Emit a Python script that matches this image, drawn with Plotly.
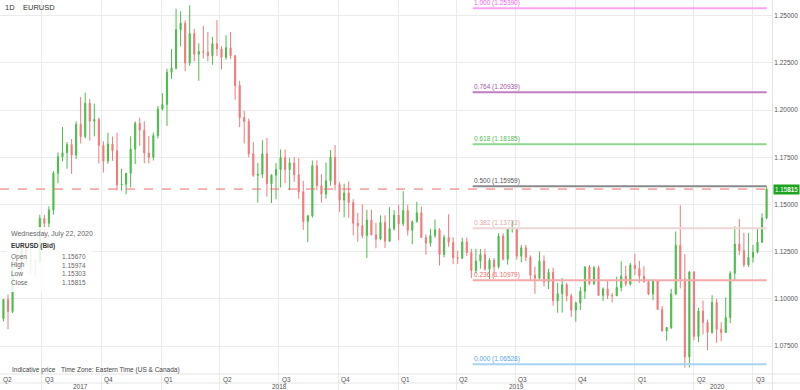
import pandas as pd
import plotly.graph_objects as go

# ---------------- data (weekly candles) ----------------
week_start = pd.date_range("2017-04-24", periods=170, freq="7D")

wk_open = [1.0850,1.0895,1.0997,1.0933,1.1207,1.1164,1.1281,1.1196,1.1199,1.1195,
 1.1426,1.1400,1.1471,1.1665,1.1753,1.1774,1.1817,1.1761,1.1924,1.1860,
 1.2036,1.1941,1.1950,1.1813,1.1730,1.1820,1.1785,1.1604,1.1607,1.1665,
 1.1793,1.1930,1.1894,1.1773,1.1750,1.1865,1.2005,1.2030,1.2200,1.2222,
 1.2426,1.2460,1.2250,1.2405,1.2296,1.2310,1.2307,1.2288,1.2352,1.2324,
 1.2280,1.2330,1.2288,1.2130,1.1960,1.1940,1.1768,1.1654,1.1660,1.1768,
 1.1610,1.1655,1.1685,1.1748,1.1685,1.1720,1.1657,1.1567,1.1410,1.1440,
 1.1705,1.1600,1.1555,1.1625,1.1750,1.1605,1.1523,1.1560,1.1510,1.1400,
 1.1388,1.1335,1.1417,1.1339,1.1316,1.1405,1.1305,1.1372,1.1443,1.1398,
 1.1467,1.1363,1.1408,1.1456,1.1325,1.1295,1.1335,1.1365,1.1235,1.1325,
 1.1300,1.1217,1.1215,1.1301,1.1245,1.1150,1.1200,1.1234,1.1157,1.1205,
 1.1170,1.1333,1.1210,1.1370,1.1373,1.1226,1.1270,1.1220,1.1125,1.1109,
 1.1200,1.1090,1.1140,1.0990,1.1027,1.1075,1.1016,1.0940,1.0978,1.1040,
 1.1168,1.1080,1.1165,1.1018,1.1052,1.1017,1.1016,1.1060,1.1120,1.1078,
 1.1178,1.1160,1.1120,1.1091,1.1026,1.1094,1.0944,1.0830,1.0848,1.1026,
 1.1284,1.1105,1.0692,1.1142,1.0800,1.0935,1.0875,1.0822,1.0980,1.0838,
 1.0822,1.0901,1.1135,1.1290,1.1256,1.1180,1.1220,1.1247,1.1300,1.1428]

wk_high = [1.0958,1.0999,1.1023,1.1213,1.1268,1.1285,1.1296,1.1296,1.1213,1.1445,
 1.1445,1.1490,1.1677,1.1776,1.1910,1.1830,1.1846,1.1940,1.2070,1.2092,
 1.2060,1.2034,1.1960,1.1834,1.1880,1.1860,1.1880,1.1689,1.1667,1.1861,
 1.1940,1.1960,1.1940,1.1863,1.1880,1.2023,1.2089,1.2219,1.2323,1.2537,
 1.2523,1.2475,1.2555,1.2430,1.2354,1.2446,1.2413,1.2388,1.2476,1.2339,
 1.2396,1.2414,1.2292,1.2155,1.1996,1.1955,1.1830,1.1720,1.1840,1.1852,
 1.1660,1.1720,1.1791,1.1791,1.1746,1.1750,1.1745,1.1625,1.1445,1.1733,
 1.1734,1.1660,1.1722,1.1788,1.1815,1.1620,1.1610,1.1622,1.1528,1.1455,
 1.1500,1.1472,1.1472,1.1402,1.1442,1.1442,1.1486,1.1470,1.1498,1.1570,
 1.1499,1.1416,1.1514,1.1488,1.1342,1.1371,1.1420,1.1375,1.1339,1.1448,
 1.1326,1.1255,1.1324,1.1324,1.1265,1.1265,1.1264,1.1265,1.1215,1.1215,
 1.1348,1.1347,1.1375,1.1412,1.1375,1.1286,1.1286,1.1230,1.1170,1.1250,
 1.1230,1.1160,1.1165,1.1085,1.1110,1.1085,1.1026,1.0985,1.1063,1.1173,
 1.1179,1.1175,1.1176,1.1060,1.1097,1.1030,1.1117,1.1199,1.1175,1.1190,
 1.1239,1.1200,1.1173,1.1100,1.1096,1.1095,1.0962,1.0850,1.1053,1.1357,
 1.1495,1.1237,1.1147,1.1147,1.0952,1.0990,1.0890,1.1019,1.1000,1.0876,
 1.1008,1.1146,1.1384,1.1422,1.1350,1.1349,1.1286,1.1371,1.1452,1.15974]

wk_low = [1.0821,1.0880,1.0839,1.0925,1.1160,1.1109,1.1180,1.1132,1.1119,1.1188,
 1.1312,1.1372,1.1446,1.1612,1.1729,1.1689,1.1662,1.1741,1.1823,1.1850,
 1.1838,1.1861,1.1717,1.1669,1.1715,1.1731,1.1574,1.1573,1.1554,1.1590,
 1.1714,1.1811,1.1718,1.1717,1.1733,1.1850,1.1998,1.1916,1.2165,1.2215,
 1.2337,1.2206,1.2235,1.2259,1.2155,1.2273,1.2258,1.2240,1.2286,1.2215,
 1.2267,1.2270,1.2055,1.1910,1.1823,1.1750,1.1646,1.1510,1.1640,1.1541,
 1.1508,1.1527,1.1590,1.1613,1.1575,1.1620,1.1530,1.1365,1.1301,1.1430,
 1.1575,1.1510,1.1530,1.1600,1.1575,1.1460,1.1432,1.1430,1.1336,1.1302,
 1.1320,1.1216,1.1337,1.1267,1.1310,1.1269,1.1302,1.1362,1.1309,1.1385,
 1.1335,1.1289,1.1405,1.1322,1.1234,1.1276,1.1323,1.1176,1.1220,1.1276,
 1.1183,1.1184,1.1211,1.1226,1.1110,1.1135,1.1160,1.1150,1.1105,1.1116,
 1.1160,1.1203,1.1181,1.1351,1.1207,1.1194,1.1200,1.1101,1.1027,1.1100,
 1.1066,1.1052,1.0963,1.0926,1.0927,1.0987,1.0904,1.0879,1.0940,1.1000,
 1.1072,1.1073,1.1015,1.0989,1.0999,1.0981,1.1015,1.1040,1.1066,1.1070,
 1.1125,1.1085,1.1085,1.1019,1.0992,1.0940,1.0827,1.0778,1.0840,1.1020,
 1.1055,1.0636,1.0636,1.0780,1.0770,1.0811,1.0727,1.0815,1.0767,1.0775,
 1.0821,1.0871,1.1095,1.1232,1.1168,1.1168,1.1191,1.1240,1.1295,1.1421]

wk_close = [1.0895,1.0997,1.0933,1.1207,1.1164,1.1281,1.1196,1.1199,1.1195,1.1426,
 1.1400,1.1471,1.1665,1.1753,1.1774,1.1817,1.1761,1.1924,1.1860,1.2036,
 1.1941,1.1950,1.1813,1.1730,1.1820,1.1785,1.1604,1.1607,1.1665,1.1793,
 1.1930,1.1894,1.1773,1.1750,1.1865,1.2005,1.2030,1.2200,1.2222,1.2426,
 1.2460,1.2250,1.2405,1.2296,1.2310,1.2307,1.2288,1.2352,1.2324,1.2280,
 1.2330,1.2288,1.2130,1.1960,1.1940,1.1768,1.1654,1.1660,1.1768,1.1610,
 1.1655,1.1685,1.1748,1.1685,1.1720,1.1657,1.1567,1.1410,1.1440,1.1705,
 1.1600,1.1555,1.1625,1.1750,1.1605,1.1523,1.1560,1.1510,1.1400,1.1388,
 1.1335,1.1417,1.1339,1.1316,1.1405,1.1305,1.1372,1.1443,1.1398,1.1467,
 1.1363,1.1408,1.1456,1.1325,1.1295,1.1335,1.1365,1.1235,1.1325,1.1300,
 1.1217,1.1215,1.1301,1.1245,1.1150,1.1200,1.1234,1.1157,1.1205,1.1170,
 1.1333,1.1210,1.1370,1.1373,1.1226,1.1270,1.1220,1.1125,1.1109,1.1200,
 1.1090,1.1140,1.0990,1.1027,1.1075,1.1016,1.0940,1.0978,1.1040,1.1168,
 1.1080,1.1165,1.1018,1.1052,1.1017,1.1016,1.1060,1.1120,1.1078,1.1178,
 1.1160,1.1120,1.1091,1.1026,1.1094,1.0944,1.0830,1.0848,1.1026,1.1284,
 1.1105,1.0692,1.1142,1.0800,1.0935,1.0875,1.0822,1.0980,1.0838,1.0822,
 1.0901,1.1135,1.1290,1.1256,1.1180,1.1220,1.1247,1.1300,1.1428,1.15815]

# last day's quote (info box)
last_day = "Wednesday, July 22, 2020"
last_labels = ["Open", "High", "Low", "Close"]
last_values = [1.15670, 1.15974, 1.15303, 1.15815]

# Fibonacci retracement tool
fib_low, fib_high = 1.06528, 1.25390
fib_ratios = [1.000, 0.764, 0.618, 0.500, 0.382, 0.236, 0.000]
fib_line_colors = ["#fba2fb", "#c07ec0", "#8fd68f", "#8a8a8a", "#eed6d6", "#f6a9a9", "#a9d3f3"]
fib_text_colors = ["#f25ff2", "#a456a4", "#55b655", "#555555", "#d9aaaa", "#ea6b6b", "#5aa6e6"]
fib_start, fib_end = "2019-04-26", "2020-07-22"

quarter_starts = pd.date_range("2017-07-01", "2020-07-01", freq="QS")

# ---------------- geometry helpers (layout only) ----------------
W, H = 800, 390
PLOT_W = 772
X_START = pd.Timestamp("2017-04-27 16:00")
X_END = pd.Timestamp("2020-07-30 08:00")
Y_MIN, Y_MAX = 1.051685, 1.258318

def px_x(p):
    return p / PLOT_W

def px_y(p):
    return 1 - p / H

GREEN = "#4cbc4c"
RED = "#f07a7a"
FONT = "Liberation Sans, Arial, sans-serif"

fig = go.Figure()
fig.add_trace(go.Candlestick(
    x=week_start + pd.Timedelta(days=2),
    open=wk_open, high=wk_high, low=wk_low, close=wk_close,
    increasing=dict(line=dict(color=GREEN, width=1), fillcolor=GREEN),
    decreasing=dict(line=dict(color=RED, width=1), fillcolor=RED),
    whiskerwidth=0, showlegend=False, hoverinfo="skip",
))

shapes = []
annotations = []

# white patch near top right (hidden legend box)
shapes.append(dict(type="rect", xref="paper", yref="paper", x0=px_x(617), x1=px_x(727),
                   y0=px_y(38), y1=px_y(12), fillcolor="white", line=dict(width=0), layer="between"))

# bottom axis separators
for yp in (374, 383):
    shapes.append(dict(type="line", xref="paper", yref="paper", x0=0, x1=W / PLOT_W,
                       y0=px_y(yp), y1=px_y(yp), line=dict(color="#e4e4e4", width=1)))

# fib lines + labels
for r, lc, tc in zip(fib_ratios, fib_line_colors, fib_text_colors):
    price = fib_low + r * (fib_high - fib_low)
    shapes.append(dict(type="line", xref="x", yref="y", x0=fib_start, x1=fib_end,
                       y0=price, y1=price, line=dict(color=lc, width=2)))
    annotations.append(dict(x=fib_start, y=price, xref="x", yref="y", text=f"{r:.3f} ({price:.5f})",
                            xanchor="left", yanchor="bottom", showarrow=False, yshift=-1, xshift=-1,
                            font=dict(size=6.5, color=tc, family=FONT)))

# current price dashed line
last_close = wk_close[-1]
shapes.append(dict(type="line", xref="paper", yref="y", x0=0, x1=1, y0=last_close, y1=last_close,
                   line=dict(color="#f06a6a", width=1, dash="dash")))
price_txt = f"{last_close:.5f}"
annotations.append(dict(x=1, y=last_close, xref="paper", yref="y",
                        text=price_txt[:4] + "<b>" + price_txt[4:6] + "</b>" + price_txt[6:],
                        xanchor="left", yanchor="middle", showarrow=False, xshift=1,
                        bgcolor="#1fa21f", borderpad=1,
                        font=dict(size=6.3, color="white", family=FONT)))

# quarter labels
annotations.append(dict(x=px_x(1), y=px_y(379.5), xref="paper", yref="paper", text="Q2",
                        xanchor="left", yanchor="middle", showarrow=False,
                        font=dict(size=6.5, color="#555", family=FONT)))
for q in quarter_starts:
    annotations.append(dict(x=q, y=px_y(379.5), xref="x", yref="paper", text=f"Q{q.quarter}",
                            xanchor="left", yanchor="middle", showarrow=False, xshift=1,
                            font=dict(size=6.5, color="#555", family=FONT)))

# year labels centred on the visible part of each year
x_ext_end = X_START + (X_END - X_START) * (W / PLOT_W)
for yr in (2017, 2018, 2019, 2020):
    a = max(pd.Timestamp(f"{yr}-01-01"), X_START)
    b = min(pd.Timestamp(f"{yr + 1}-01-01"), x_ext_end)
    annotations.append(dict(x=a + (b - a) / 2, y=px_y(386.5), xref="x", yref="paper", text=str(yr),
                            xanchor="center", yanchor="middle", showarrow=False,
                            font=dict(size=6.5, color="#555", family=FONT)))

# title
annotations.append(dict(x=px_x(3), y=px_y(7), xref="paper", yref="paper", text="1D",
                        xanchor="left", yanchor="middle", showarrow=False,
                        font=dict(size=7.5, color="#333", family=FONT)))
annotations.append(dict(x=px_x(21), y=px_y(7), xref="paper", yref="paper", text="EURUSD",
                        xanchor="left", yanchor="middle", showarrow=False,
                        font=dict(size=7.5, color="#333", family=FONT)))

# footer
annotations.append(dict(x=px_x(10), y=px_y(369.5), xref="paper", yref="paper", text="Indicative price",
                        xanchor="left", yanchor="middle", showarrow=False,
                        font=dict(size=6.5, color="#444", family=FONT)))
annotations.append(dict(x=px_x(59), y=px_y(369.5), xref="paper", yref="paper",
                        text="Time Zone: Eastern Time (US & Canada)",
                        xanchor="left", yanchor="middle", showarrow=False,
                        font=dict(size=6.5, color="#444", family=FONT)))

# info box
shapes.append(dict(type="rect", xref="paper", yref="paper", x0=px_x(6), x1=px_x(93),
                   y0=px_y(292), y1=px_y(227), fillcolor="rgba(255,255,255,0.85)",
                   line=dict(width=0), layer="above"))
annotations.append(dict(x=px_x(9), y=px_y(233.5), xref="paper", yref="paper", text=last_day,
                        xanchor="left", yanchor="middle", showarrow=False,
                        font=dict(size=7, color="#666", family=FONT)))
annotations.append(dict(x=px_x(9), y=px_y(245.5), xref="paper", yref="paper", text="<b>EURUSD (Bid)</b>",
                        xanchor="left", yanchor="middle", showarrow=False,
                        font=dict(size=6.5, color="#333", family=FONT)))
for i, (lab, val) in enumerate(zip(last_labels, last_values)):
    yp = 256.5 + i * 8.7
    annotations.append(dict(x=px_x(9), y=px_y(yp), xref="paper", yref="paper", text=lab,
                            xanchor="left", yanchor="middle", showarrow=False,
                            font=dict(size=6.5, color="#666", family=FONT)))
    annotations.append(dict(x=px_x(88), y=px_y(yp), xref="paper", yref="paper", text=f"{val:.5f}",
                            xanchor="right", yanchor="middle", showarrow=False,
                            font=dict(size=6.5, color="#666", family=FONT)))

fig.update_layout(
    width=W, height=H,
    margin=dict(l=0, r=W - PLOT_W, t=0, b=0),
    paper_bgcolor="white", plot_bgcolor="white",
    font=dict(family=FONT, color="#555"),
    shapes=shapes, annotations=annotations,
    showlegend=False,
    boxgap=0.65,
)
fig.update_xaxes(range=[X_START, X_END], tickvals=list(quarter_starts), showticklabels=False,
                 showgrid=True, gridcolor="#ebebeb", gridwidth=1, zeroline=False,
                 rangeslider_visible=False, showline=False, ticks="")
fig.update_yaxes(range=[Y_MIN, Y_MAX], side="right", tick0=1.0, dtick=0.025, tickformat=".5f",
                 showgrid=True, gridcolor="#ebebeb", gridwidth=1, zeroline=False,
                 showline=True, linecolor="#e4e4e4", linewidth=1, ticks="",
                 tickfont=dict(size=6.5, color="#555", family=FONT))

fig.write_html("out.html")
